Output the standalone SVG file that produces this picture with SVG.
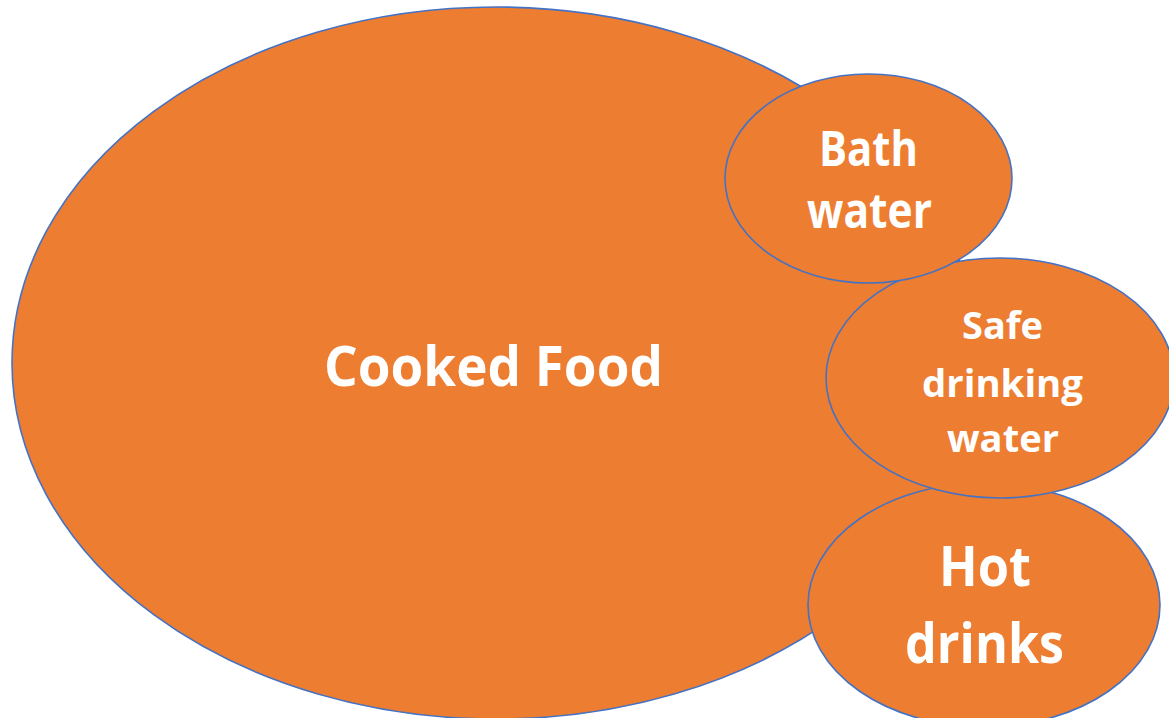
<svg xmlns="http://www.w3.org/2000/svg" width="1169" height="718" viewBox="0 0 1169 718">
  <style>
    .bubble { fill: #ED7D31; stroke: #4472C4; stroke-width: 1.6; }
    .label { fill: #FFFFFF; font-family: "Open Sans", "Noto Sans", sans-serif; font-weight: bold; text-anchor: middle; }
  </style>
  <rect width="1169" height="718" fill="#FFFFFF"/>
  <g id="cooked-food">
    <ellipse class="bubble" cx="496" cy="363" rx="484" ry="356"/>
    <text class="label" x="493.5" y="386" font-size="56" textLength="339" lengthAdjust="spacingAndGlyphs">Cooked Food</text>
  </g>
  <g id="hot-drinks">
    <ellipse class="bubble" cx="984" cy="605" rx="176" ry="122"/>
    <text class="label" x="985" y="586" font-size="56" textLength="92" lengthAdjust="spacingAndGlyphs">Hot</text>
    <text class="label" x="984.5" y="663" font-size="56" textLength="159" lengthAdjust="spacingAndGlyphs">drinks</text>
  </g>
  <g id="safe-drinking-water">
    <ellipse class="bubble" cx="1000" cy="378" rx="174" ry="120"/>
    <text class="label" x="1002.5" y="339" font-size="38" textLength="81" lengthAdjust="spacingAndGlyphs">Safe</text>
    <text class="label" x="1002.5" y="397" font-size="38" textLength="161" lengthAdjust="spacingAndGlyphs">drinking</text>
    <text class="label" x="1003" y="452" font-size="38" textLength="112" lengthAdjust="spacingAndGlyphs">water</text>
  </g>
  <g id="bath-water">
    <ellipse class="bubble" cx="868.5" cy="178.5" rx="143.5" ry="104.5"/>
    <text class="label" x="868.5" y="166" font-size="48" textLength="99" lengthAdjust="spacingAndGlyphs">Bath</text>
    <text class="label" x="869.5" y="228" font-size="48" textLength="125" lengthAdjust="spacingAndGlyphs">water</text>
  </g>
  <g id="connectors"/>
</svg>
